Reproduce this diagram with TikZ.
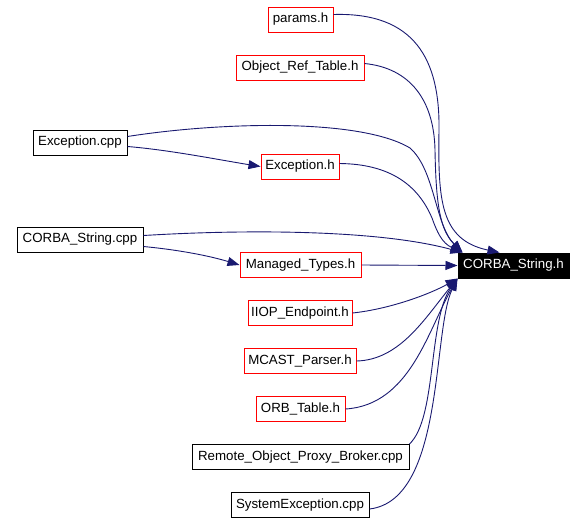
\documentclass[tikz,border=0pt]{standalone}
\usepackage{fontspec}
\setmainfont{Liberation Sans}
\usetikzlibrary{arrows.meta}
\definecolor{edgeblue}{RGB}{25,25,112}
\tikzset{
  box/.style={draw=black, line width=1pt, inner sep=0pt, minimum height=25pt, font=\fontsize{13.3}{15}\selectfont},
  redbox/.style={box, draw=red},
  mainbox/.style={box, fill=black, text=white},
  edge/.style={draw=edgeblue, line width=0.9pt, -{Triangle[length=12pt,width=9pt]}},
}
\begin{document}
\begin{tikzpicture}[x=1pt,y=-1pt]
\useasboundingbox (0,0) rectangle (584,523);
\node[redbox, minimum width=65pt] (params) at (300.5,19.5) {params.h};
\node[redbox, minimum width=128pt] (ort) at (300,67.5) {Object\_Ref\_Table.h};
\node[box, minimum width=94pt] (exccpp) at (80,142.5) {Exception.cpp};
\node[redbox, minimum width=78pt] (exch) at (300,166.5) {Exception.h};
\node[box, minimum width=126pt] (cscpp) at (80,239.5) {CORBA\_String.cpp};
\node[redbox, minimum width=121pt] (mt) at (300.5,265) {Managed\_Types.h};
\node[mainbox, minimum width=111pt] (cs) at (513.5,265.5) {CORBA\_String.h};
\node[redbox, minimum width=104pt] (iiop) at (300,313) {IIOP\_Endpoint.h};
\node[redbox, minimum width=112pt] (mcast) at (300,361) {MCAST\_Parser.h};
\node[redbox, minimum width=89pt] (orbt) at (300.5,409) {ORB\_Table.h};
\node[box, minimum width=217pt] (rop) at (300.5,457) {Remote\_Object\_Proxy\_Broker.cpp};
\node[box, minimum width=138pt] (sysexc) at (300,505) {SystemException.cpp};

\coordinate (csTR) at ([xshift=-14pt]cs.north);
\coordinate (csTL) at ([xshift=5pt]cs.north west);
\coordinate (csBL) at (cs.south west);

\draw[edge] ([yshift=5pt]params.east) .. controls (415,12) and (440,60) .. (439,130) .. controls (438,200) and (440,240) .. (csTR);
\draw[edge] ([yshift=4pt]ort.east) .. controls (410,68) and (434,100) .. (435,150) .. controls (436,205) and (440,230) .. (csTL);
\draw[edge] ([yshift=6pt]exccpp.east) .. controls (220,122) and (360,118) .. (410,148) .. controls (435,170) and (435,225) .. (csTL);
\draw[edge] ([yshift=3pt]exch.east) .. controls (390,164) and (418,185) .. (432,218) .. controls (437,232) and (442,243) .. (csTL);
\draw[edge] ([yshift=4pt]cscpp.east) .. controls (250,229) and (380,230) .. (csTL);
\draw[edge] (mt.east) -- (cs.west);
\draw[edge] ([yshift=-4pt]exccpp.east) .. controls (170,150) and (220,160) .. (exch.west);
\draw[edge] ([yshift=-7pt]cscpp.east) .. controls (180,250) and (210,256) .. (mt.west);
\draw[edge] (iiop.east) .. controls (390,309) and (430,294) .. (csBL);
\draw[edge] (mcast.east) .. controls (400,360) and (425,318) .. (csBL);
\draw[edge] (orbt.east) .. controls (410,405) and (428,330) .. (csBL);
\draw[edge] (rop.north east) .. controls (437,418) and (428,320) .. (csBL);
\draw[edge] ([yshift=-4pt]sysexc.east) .. controls (445,500) and (432,330) .. (csBL);
\end{tikzpicture}
\end{document}
